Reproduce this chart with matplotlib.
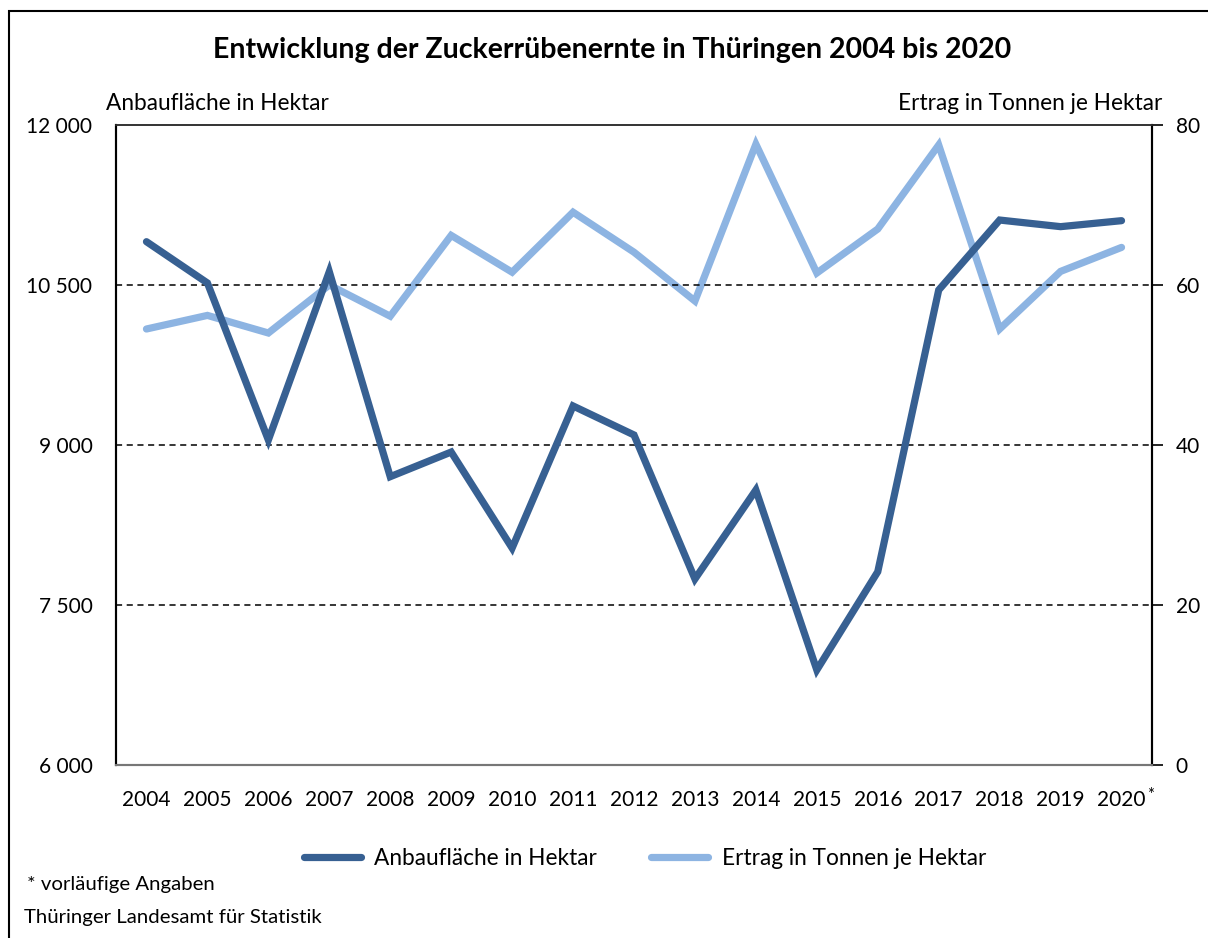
import matplotlib
matplotlib.use("Agg")
import matplotlib.pyplot as plt
from matplotlib.patches import Rectangle

plt.rcParams['font.family'] = ['Lato', 'DejaVu Sans']

# data
years = ['2004', '2005', '2006', '2007', '2008', '2009', '2010', '2011', '2012',
         '2013', '2014', '2015', '2016', '2017', '2018', '2019', '2020']
flaeche = [10906, 10519, 9047, 10625, 8703, 8934, 8034, 9366, 9094,
           7744, 8578, 6891, 7812, 10453, 11109, 11047, 11103]
ertrag = [54.5, 56.2, 54.0, 60.0, 56.1, 66.2, 61.6, 69.1, 64.1,
          58.0, 77.6, 61.5, 67.0, 77.5, 54.5, 61.7, 64.7]
left_ticks = [6000, 7500, 9000, 10500, 12000]
left_labels = ['6 000', '7 500', '9 000', '10 500', '12 000']
right_ticks = [0, 20, 40, 60, 80]

dark = '#376092'
light = '#8DB4E2'
fs = 15

W, H = 1208, 938
fig = plt.figure(figsize=(W / 100, H / 100), dpi=100)

# outer frame (cut off at right and bottom like the reference)
fig.patches.append(Rectangle((9 / W, -0.05), 1.2, 1 - 11 / H + 0.05,
                             transform=fig.transFigure, fill=False,
                             edgecolor='black', linewidth=1.5))

ax = fig.add_axes([116 / W, 1 - 765 / H, (1152 - 116) / W, 640 / H])
ax2 = ax.twinx()

x = list(range(len(years)))
ax.plot(x, flaeche, color=dark, linewidth=5.2, solid_capstyle='round',
        solid_joinstyle='miter', zorder=3, label='Anbaufläche in Hektar')
ax2.plot(x, ertrag, color=light, linewidth=5.2, solid_capstyle='round',
         solid_joinstyle='miter', zorder=3, label='Ertrag in Tonnen je Hektar')

ax.set_xlim(-0.5, len(years) - 0.5)
ax.set_ylim(6000, 12000)
ax2.set_ylim(0, 80)

ax.set_yticks(left_ticks)
ax.set_yticklabels(left_labels, fontsize=fs)
ax.tick_params(axis='y', length=0, pad=17)
ax2.set_yticks(right_ticks)
ax2.set_yticklabels([str(t) for t in right_ticks], fontsize=fs)
ax2.tick_params(axis='y', length=8, width=1.2, pad=9)

ax.set_xticks(x)
ax.set_xticklabels(years, fontsize=fs)
ax.tick_params(axis='x', length=0, pad=18)
ax.annotate('*', xy=(16, 0), xycoords=('data', 'axes fraction'),
            xytext=(18, -25), textcoords='offset points', fontsize=12, ha='left')

for v in left_ticks[1:-1]:
    ax.axhline(v, color='black', linestyle=(0, (4, 3)), linewidth=1.1, zorder=1)

for a in (ax, ax2):
    a.spines['left'].set_color('black')
    a.spines['left'].set_linewidth(1.5)
    a.spines['right'].set_color('black')
    a.spines['right'].set_linewidth(1.5)
    a.spines['top'].set_color('#333333')
    a.spines['top'].set_linewidth(1.2)
    a.spines['bottom'].set_color('#777777')
    a.spines['bottom'].set_linewidth(1.5)
ax.set_zorder(ax2.get_zorder() + 1)
ax.patch.set_visible(False)

fig.text(612 / W, 1 - 50 / H, 'Entwicklung der Zuckerrübenernte in Thüringen 2004 bis 2020',
         ha='center', va='center', fontsize=20.5, fontweight='bold')
fig.text(106 / W, 1 - 103 / H, 'Anbaufläche in Hektar', ha='left', va='center', fontsize=16.3)
fig.text(1162 / W, 1 - 103 / H, 'Ertrag in Tonnen je Hektar', ha='right', va='center', fontsize=16.3)

h1, l1 = ax.get_legend_handles_labels()
h2, l2 = ax2.get_legend_handles_labels()
fig.legend(h1 + h2, l1 + l2, loc='center', bbox_to_anchor=(645 / W, 1 - 858 / H),
           ncol=2, frameon=False, fontsize=16.3, handlelength=2.5,
           handletextpad=0.6, columnspacing=2.4)

fig.text(27 / W, 1 - 884 / H, '* vorläufige Angaben', ha='left', va='center', fontsize=14.7)
fig.text(24 / W, 1 - 917 / H, 'Thüringer Landesamt für Statistik', ha='left', va='center', fontsize=14.7)

fig.savefig('out.png', dpi=100)
